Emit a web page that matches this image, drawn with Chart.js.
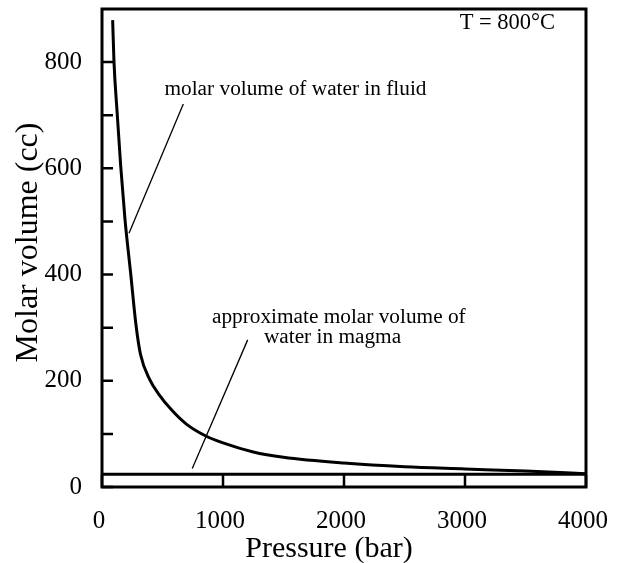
<!DOCTYPE html>
<html>
<head>
<meta charset="utf-8">
<script src="https://cdn.jsdelivr.net/npm/chart.js@4.4.0/dist/chart.umd.min.js"></script>
<style>
body{margin:0;background:#fff}
</style>
</head>
<body>
<canvas id="grafica" width="619" height="563"></canvas>
<script>
// molar volume of water in the fluid at T = 800°C
var pressure = [88, 99, 126, 155, 190, 237, 281, 318, 397, 465, 576, 700, 850, 1000, 1250, 1500, 2000, 2500, 3000, 3500, 4000]
var volumeFluid = [879, 801, 702, 603, 504, 402, 305, 250, 201, 176, 145, 118, 97, 83, 66, 56, 45, 38, 34, 30, 25]
// approximate molar volume of water in magma
var pressureMagma = [0, 4000]
var volumeMagma = [24, 24]
// leader lines of the labels
var leaderFluidP = [223, 672]
var leaderFluidV = [478, 721]
var leaderMagmaP = [746, 1204]
var leaderMagmaV = [35, 277]
// ticks
var xTicks = [0, 1000, 2000, 3000, 4000]
var yTicks = [0, 200, 400, 600, 800]
var yMinor = [100, 300, 500, 700]

var notes = [
    {text: 'T = 800°C', p: 3350, v: 862, size: 22.5},
    {text: 'molar volume of water in fluid', p: 1599, v: 738, size: 21.3},
    {text: 'approximate molar volume of', p: 1957, v: 308, size: 21.3},
    {text: 'water in magma', p: 1905, v: 271, size: 21.3}
]

var toPoints = function(xs, ys) {
    return xs.map(function(x, i) { return {x: x, y: ys[i]} })
}

var serif = '"Liberation Serif", "Times New Roman", serif'

var framePlugin = {
    id: 'frame',
    afterDraw: function(chart) {
        var ctx = chart.ctx
        var a = chart.chartArea
        var sx = chart.scales.x
        var sy = chart.scales.y
        ctx.save()
        ctx.strokeStyle = '#000'
        ctx.lineWidth = 3
        ctx.strokeRect(a.left, a.top, a.right - a.left, a.bottom - a.top)
        // inward ticks
        ctx.lineWidth = 2.5
        ctx.beginPath()
        yTicks.concat(yMinor).forEach(function(v) {
            var py = sy.getPixelForValue(v)
            ctx.moveTo(a.left, py)
            ctx.lineTo(a.left + 11, py)
        })
        xTicks.forEach(function(v) {
            var px = sx.getPixelForValue(v)
            ctx.moveTo(px, a.bottom)
            ctx.lineTo(px, a.bottom - 12)
        })
        ctx.stroke()
        // labels
        ctx.fillStyle = '#000'
        ctx.textAlign = 'center'
        ctx.textBaseline = 'alphabetic'
        notes.forEach(function(n) {
            ctx.font = n.size + 'px ' + serif
            ctx.fillText(n.text, sx.getPixelForValue(n.p), sy.getPixelForValue(n.v))
        })
        // axis titles
        ctx.font = '30px ' + serif
        ctx.fillText('Pressure (bar)', 329, 556.5)
        ctx.font = '32px ' + serif
        ctx.translate(37, 242.5)
        ctx.rotate(-Math.PI / 2)
        ctx.fillText('Molar volume (cc)', 0, 0)
        ctx.restore()
    }
}

var chart = new Chart(document.getElementById('grafica'), {
    type: 'scatter',
    data: {
        datasets: [
            {
                label: 'fluid',
                data: toPoints(pressure, volumeFluid),
                showLine: true,
                borderColor: '#000',
                borderWidth: 3,
                pointRadius: 0,
                cubicInterpolationMode: 'monotone'
            },
            {
                label: 'magma',
                data: toPoints(pressureMagma, volumeMagma),
                showLine: true,
                borderColor: '#000',
                borderWidth: 3,
                pointRadius: 0
            },
            {
                label: 'leader fluid',
                data: toPoints(leaderFluidP, leaderFluidV),
                showLine: true,
                borderColor: '#000',
                borderWidth: 1.3,
                pointRadius: 0
            },
            {
                label: 'leader magma',
                data: toPoints(leaderMagmaP, leaderMagmaV),
                showLine: true,
                borderColor: '#000',
                borderWidth: 1.3,
                pointRadius: 0
            }
        ]
    },
    options: {
        responsive: false,
        animation: false,
        devicePixelRatio: 1,
        layout: {padding: {top: 9, right: 33, left: 0, bottom: 0}},
        plugins: {legend: {display: false}, tooltip: {enabled: false}},
        scales: {
            x: {
                type: 'linear',
                min: 0,
                max: 4000,
                afterBuildTicks: function(s) { s.ticks = xTicks.map(function(v) { return {value: v} }) },
                afterFit: function(s) {
                    s.height = 76
                    s.paddingLeft = 0
                    s.paddingRight = 0
                },
                grid: {display: false},
                border: {display: false},
                ticks: {
                    color: '#000',
                    font: {family: serif, size: 25},
                    padding: 11,
                    labelOffset: -3,
                    maxRotation: 0,
                    callback: function(v) { return String(v) }
                }
            },
            y: {
                min: 0,
                max: 900,
                afterBuildTicks: function(s) { s.ticks = yTicks.map(function(v) { return {value: v} }) },
                afterFit: function(s) {
                    s.width = 102
                    s.paddingTop = 0
                    s.paddingBottom = 0
                },
                grid: {display: false},
                border: {display: false},
                ticks: {
                    color: '#000',
                    font: {family: serif, size: 25},
                    padding: 12,
                    callback: function(v) { return String(v) }
                }
            }
        }
    },
    plugins: [framePlugin]
})
</script>
</body>
</html>
